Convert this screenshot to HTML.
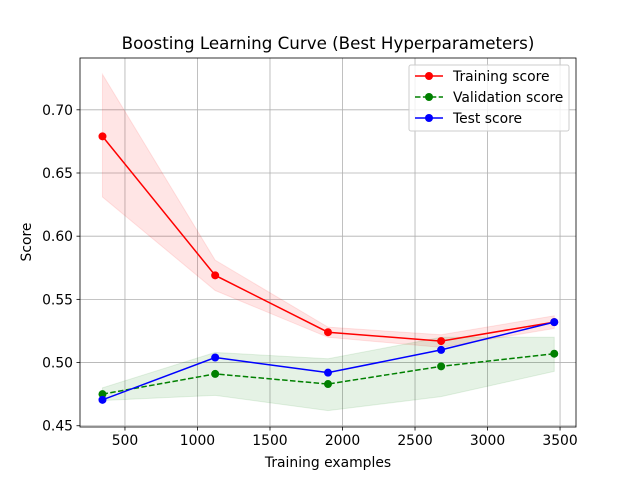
<!DOCTYPE html>
<html><head><meta charset="utf-8"><style>
body{margin:0;background:#fff;font-family:"Liberation Sans","DejaVu Sans",sans-serif}
svg text{font-family:"DejaVu Sans","Liberation Sans",sans-serif}
</style></head><body>
<svg id="chart" width="640" height="480" xmlns="http://www.w3.org/2000/svg"></svg>
<script>
const sizes=[345,1122,1900,2680,3460];
const trainMean=[0.679,0.569,0.524,0.517,0.532];
const trainUpper=[0.728,0.581,0.528,0.522,0.537];
const trainLower=[0.631,0.557,0.520,0.512,0.527];
const valMean=[0.475,0.491,0.483,0.497,0.507];
const valUpper=[0.480,0.508,0.503,0.520,0.520];
const valLower=[0.470,0.474,0.462,0.473,0.493];
const testMean=[0.4705,0.504,0.492,0.510,0.532];
const xTicks=[500,1000,1500,2000,2500,3000,3500];
const yTicks=[0.45,0.50,0.55,0.60,0.65,0.70];
const yTickLabels=["0.45","0.50","0.55","0.60","0.65","0.70"];

const L=80,R=576,T=58,B=427;
const xMin=190,xMax=3610,yMin=0.449,yMax=0.741;
const X=v=>L+(v-xMin)/(xMax-xMin)*(R-L);
const Y=v=>B-(v-yMin)/(yMax-yMin)*(B-T);
const svg=document.getElementById('chart');
const NS='http://www.w3.org/2000/svg';
function add(tag,attrs,parent){const e=document.createElementNS(NS,tag);for(const k in attrs)e.setAttribute(k,attrs[k]);(parent||svg).appendChild(e);return e;}

xTicks.forEach(t=>{const g=add('line',{x1:X(t),x2:X(t),y1:T,y2:B,stroke:'#b0b0b0','stroke-width':0.8});

});
yTicks.forEach(t=>{const g=add('line',{x1:L,x2:R,y1:Y(t),y2:Y(t),stroke:'#b0b0b0','stroke-width':0.8});

});

function band(up,lo,color,name){
  let d='M'+sizes.map((s,i)=>X(s)+','+Y(up[i])).join('L');
  d+='L'+sizes.map((s,i)=>X(s)+','+Y(lo[i])).reverse().join('L')+'Z';
  const p=add('path',{d:d,fill:color,'fill-opacity':0.1,stroke:color,'stroke-opacity':0.1});
  
  
}
band(trainUpper,trainLower,'red','training-band');
band(valUpper,valLower,'green','validation-band');

function series(vals,color,dash,name){
  const pl=add('polyline',{points:sizes.map((s,i)=>X(s)+','+Y(vals[i])).join(' '),fill:'none',stroke:color,'stroke-width':1.5,'stroke-dasharray':dash||'none'});
  
  
  sizes.forEach((s,i)=>{const c=add('circle',{cx:X(s),cy:Y(vals[i]),r:4,fill:color});
  
  });
}
series(trainMean,'red',null,'training');
series(valMean,'green','5.5,2.4','validation');
series(testMean,'blue',null,'test');

const fr=add('rect',{x:L,y:T,width:R-L,height:B-T,fill:'none',stroke:'#000','stroke-width':0.8});


xTicks.forEach(t=>{add('line',{x1:X(t),x2:X(t),y1:B,y2:B+3.5,stroke:'#000','stroke-width':0.8});
const tx=add('text',{x:X(t),y:B+18,'font-size':13.9,'text-anchor':'middle'});tx.textContent=t;

});
yTicks.forEach((t,i)=>{add('line',{x1:L-3.5,x2:L,y1:Y(t),y2:Y(t),stroke:'#000','stroke-width':0.8});
const tx=add('text',{x:L-7,y:Y(t)+5,'font-size':13.9,'text-anchor':'end'});tx.textContent=yTickLabels[i];

});

let t1=add('text',{x:328,y:49,'font-size':16.7,'text-anchor':'middle'});t1.textContent='Boosting Learning Curve (Best Hyperparameters)';


let t2=add('text',{x:328,y:467,'font-size':13.9,'text-anchor':'middle'});t2.textContent='Training examples';


let t3=add('text',{x:31,y:242,'font-size':13.9,'text-anchor':'middle',transform:'rotate(-90 31 242)'});t3.textContent='Score';



const lg=add('g',{});


add('rect',{x:409,y:65,width:160,height:66,rx:2,fill:'#fff','fill-opacity':0.8,stroke:'#ccc'},lg);
[['Training score','red',null],['Validation score','green','5.5,2.4'],['Test score','blue',null]].forEach((e,i)=>{
  const y=76+i*21;
  const g=add('g',{},lg);
  
  
  add('line',{x1:415,x2:443,y1:y,y2:y,stroke:e[1],'stroke-width':1.5,'stroke-dasharray':e[2]||'none'},g);
  add('circle',{cx:429,cy:y,r:4,fill:e[1]},g);
  const t=add('text',{x:453,y:y+5,'font-size':13.9},g);t.textContent=e[0];
});
</script>
</body></html>
